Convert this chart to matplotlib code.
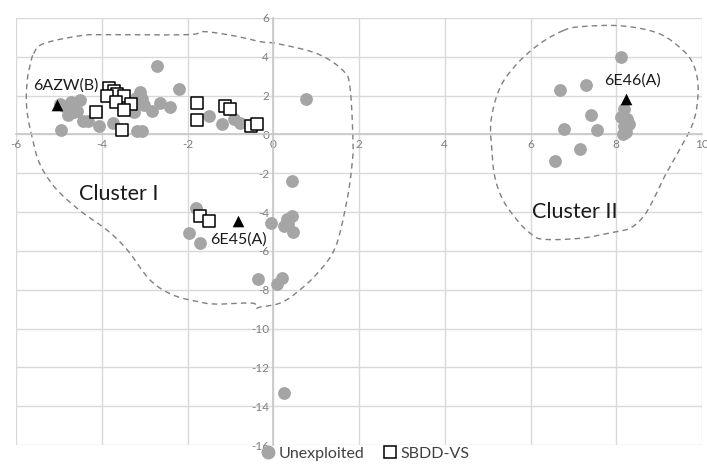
import numpy as np
import matplotlib.pyplot as plt
from matplotlib.lines import Line2D

plt.rcParams['font.family'] = ['Lato', 'DejaVu Sans']
plt.rcParams['axes.unicode_minus'] = False

# Unexploited (grey circles)
unexp_x = [-4.97, -4.88, -4.80, -4.72, -4.50, -4.78, -4.64, -4.57, -4.96, -4.43, -4.31, -4.06, -3.73,
           -3.10, -3.05, -3.17, -3.02, -3.20, -3.25, -3.35, -3.17, -3.05,
           -2.70, -2.20, -2.63, -2.40, -2.82,
           -1.49, -1.19, -0.92, -0.77, 0.77,
           -1.81, -1.97, -1.71, -0.05, 0.43, 0.32, 0.43, 0.24, 0.47, 0.35, -0.36, 0.09, 0.20, 0.26,
           8.12, 6.69, 7.29, 7.41, 6.77, 7.54, 7.16, 6.56, 8.19, 8.11, 8.26, 8.19, 8.30, 8.22, 8.15]
unexp_y = [1.59, 1.45, 1.39, 1.66, 1.75, 0.98, 1.15, 1.23, 0.24, 0.67, 0.70, 0.43, 0.58,
           2.17, 1.83, 1.58, 1.50, 1.90, 1.15, 1.40, 0.20, 0.20,
           3.55, 2.35, 1.61, 1.40, 1.23,
           0.93, 0.55, 0.81, 0.59, 1.81,
           -3.79, -5.10, -5.60, -4.55, -2.38, -4.36, -4.19, -4.71, -5.00, -4.60, -7.47, -7.69, -7.42, -13.33,
           3.97, 2.28, 2.57, 1.02, 0.26, 0.24, -0.74, -1.35, 1.32, 0.89, 0.81, 0.46, 0.55, 0.12, 0.04]

# SBDD-VS (open squares)
sbdd_x = [-3.83, -3.71, -3.64, -3.48, -3.87, -3.67, -3.31, -3.48, -3.52, -4.14,
          -1.79, -1.77, -1.12, -1.00, -0.52, -0.38, -1.71, -1.50]
sbdd_y = [2.40, 2.26, 2.09, 2.00, 2.00, 1.66, 1.58, 1.27, 0.24, 1.18,
          1.64, 0.72, 1.45, 1.31, 0.41, 0.55, -4.19, -4.48]

# reference structures (black triangles)
ref_x = [-5.05, -0.83, 8.22]
ref_y = [1.53, -4.45, 1.84]
ref_names = ['6AZW(B)', '6E45(A)', '6E46(A)']
ref_label_x = [-4.84, -0.81, 8.37]
ref_label_y = [2.52, -5.40, 2.78]

# hand drawn cluster outlines
c1_x = [-5.59, -5.36, -4.50, -3.95, -2.00, -1.63, -0.93, -0.30, 0.09, 1.03, 1.63, 1.79, 1.86, 1.84, 1.72,
        1.45, 1.03, 0.56, 0.16, -0.30, -0.40, -0.49, -1.31, -1.70, -2.33, -2.87, -3.40, -3.87, -4.43,
        -4.97, -5.27, -5.48, -5.59, -5.71, -5.76, -5.73, -5.66]
c1_y = [4.16, 4.68, 5.09, 5.14, 5.14, 5.30, 5.09, 4.78, 4.68, 4.16, 3.29, 2.42, -0.31, -1.49, -3.39,
        -5.81, -7.15, -8.12, -8.69, -8.89, -8.95, -8.69, -8.74, -8.64, -8.28, -7.51, -5.96, -4.94, -4.06,
        -3.03, -2.21, -1.34, -0.46, 0.72, 1.75, 2.93, 3.65]
c2_x = [6.76, 7.16, 8.09, 8.95, 9.49, 9.79, 9.91, 9.81, 9.44, 9.14, 8.86, 8.62, 8.32, 7.93, 7.16,
        6.29, 5.99, 5.69, 5.36, 5.17, 5.10, 5.08, 5.29, 5.69, 6.22]
c2_y = [5.35, 5.55, 5.60, 5.24, 4.47, 3.65, 2.42, 0.72, -0.93, -2.11, -3.39, -4.27, -4.83, -5.04, -5.35,
        -5.40, -5.09, -4.42, -3.39, -2.21, -0.82, 0.72, 2.42, 3.65, 4.68]
cluster_names = ['Cluster I', 'Cluster II']
cluster_label_x = [-3.6, 7.03]
cluster_label_y = [-3.05, -3.98]

xticks = list(range(-6, 11, 2))
yticks = list(range(-16, 7, 2))


def closed_curve(xs, ys, n=12):
    # catmull-rom through the outline points
    p = np.column_stack([xs, ys])
    out = []
    m = len(p)
    t = np.linspace(0, 1, n, endpoint=False)[:, None]
    for i in range(m):
        p0, p1, p2, p3 = p[i - 1], p[i], p[(i + 1) % m], p[(i + 2) % m]
        seg = 0.5 * ((2 * p1) + (-p0 + p2) * t + (2 * p0 - 5 * p1 + 4 * p2 - p3) * t ** 2
                     + (-p0 + 3 * p1 - 3 * p2 + p3) * t ** 3)
        out.append(seg)
    out = np.vstack(out + [p[:1]])
    return out[:, 0], out[:, 1]


fig = plt.figure(figsize=(7.07, 4.66), dpi=100)
ax = fig.add_axes([16 / 707, 1 - 445 / 466, 686 / 707, 427 / 466])
ax.set_xlim(-6, 10)
ax.set_ylim(-16, 6)
ax.set_xticks(xticks)
ax.set_xticklabels([str(v) for v in xticks])
ax.set_yticks(yticks)
ax.set_yticklabels([str(v) for v in yticks])
ax.grid(True, color='#D9D9D9', lw=1)
ax.set_axisbelow(True)
for s in ['top', 'right']:
    ax.spines[s].set_visible(False)
ax.spines['left'].set_position(('data', 0))
ax.spines['bottom'].set_position(('data', 0))
for s in ['left', 'bottom']:
    ax.spines[s].set_color('#C8C8C8')
    ax.spines[s].set_linewidth(1.2)
ax.tick_params(length=0, labelsize=8.5, labelcolor='#7F7F7F', pad=3)

for cx, cy in [(c1_x, c1_y), (c2_x, c2_y)]:
    sx, sy = closed_curve(cx, cy)
    ax.plot(sx, sy, ls=(0, (4, 3)), color='#808080', lw=1, zorder=2, clip_on=False)

ax.scatter(unexp_x, unexp_y, s=85, c='#A5A5A5', lw=0, zorder=3)
ax.scatter(sbdd_x, sbdd_y, s=70, marker='s', facecolor='white', edgecolor='black', lw=1.1, zorder=4)
ax.scatter(ref_x, ref_y, s=70, marker='^', c='black', lw=0, zorder=5)

for name, lx, ly in zip(ref_names, ref_label_x, ref_label_y):
    ax.text(lx, ly, name, ha='center', va='center', fontsize=11.5, color='#1a1a1a', zorder=6)
for name, lx, ly in zip(cluster_names, cluster_label_x, cluster_label_y):
    ax.text(lx, ly, name, ha='center', va='center', fontsize=15.5, color='#1a1a1a', zorder=6)

handles = [Line2D([], [], marker='o', ls='', color='#A5A5A5', markersize=9, label='Unexploited'),
           Line2D([], [], marker='s', ls='', markerfacecolor='white', markeredgecolor='black',
                  markersize=8.5, markeredgewidth=1.1, label='SBDD-VS')]
leg = fig.legend(handles=handles, loc='lower center', bbox_to_anchor=(0.515, -0.02), ncol=2,
                 frameon=False, fontsize=11.5, handletextpad=0.05, columnspacing=1.0, handlelength=1.2)
for t in leg.get_texts():
    t.set_color('#404040')

fig.savefig('out.png', dpi=100)
